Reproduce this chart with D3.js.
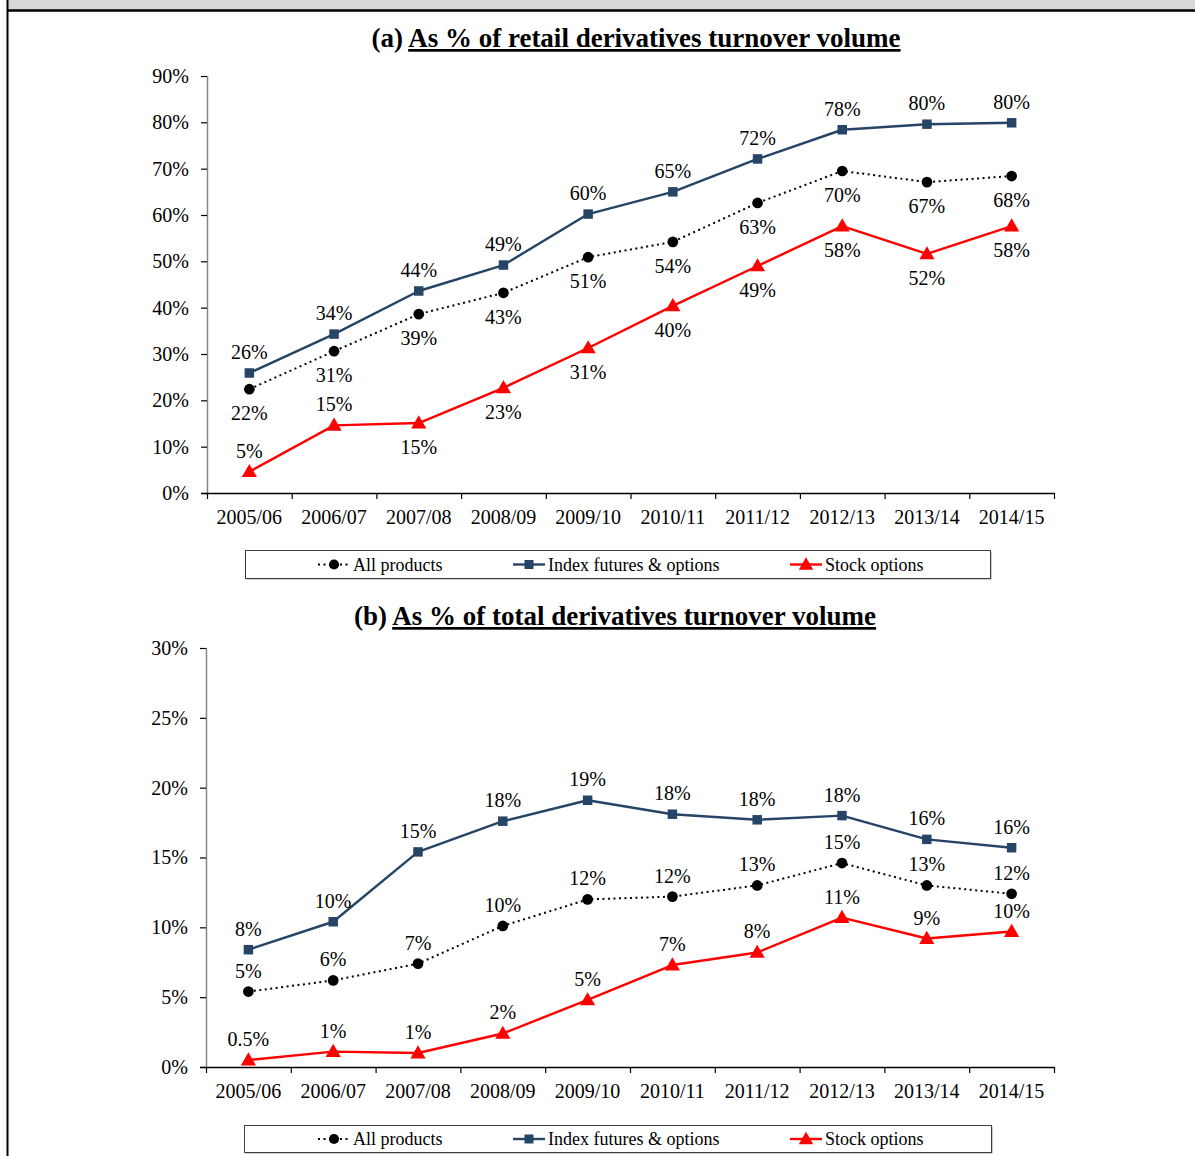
<!DOCTYPE html>
<html>
<head>
<meta charset="utf-8">
<script src="https://cdnjs.cloudflare.com/ajax/libs/d3/7.8.5/d3.min.js"></script>
<style>
  html, body { margin: 0; padding: 0; background: #ffffff; }
  svg { display: block; font-family: "Liberation Serif", "Times New Roman", serif; }
</style>
</head>
<body>
<svg id="chart" width="1195" height="1156"></svg>
<script>
// Fiscal years on the category axis
const years = ["2005/06", "2006/07", "2007/08", "2008/09", "2009/10",
               "2010/11", "2011/12", "2012/13", "2013/14", "2014/15"];

// (a) share of retail derivatives turnover volume, %
const retailAll   = [22.4, 30.6, 38.6, 43.2, 50.9, 54.2, 62.6, 69.5, 67.1, 68.4];
const retailIndex = [25.9, 34.3, 43.6, 49.2, 60.2, 65.0, 72.1, 78.4, 79.6, 79.9];
const retailStock = [4.6, 14.6, 15.1, 22.7, 31.3, 40.4, 49.0, 57.6, 51.6, 57.6];
const retailTicks = [0, 10, 20, 30, 40, 50, 60, 70, 80, 90];

// (b) share of total derivatives turnover volume, %
const totalAll   = [5.4, 6.2, 7.4, 10.1, 12.0, 12.2, 13.0, 14.6, 13.0, 12.4];
const totalIndex = [8.4, 10.4, 15.4, 17.6, 19.1, 18.1, 17.7, 18.0, 16.3, 15.7];
const totalStock = [0.5, 1.1, 1.0, 2.4, 4.8, 7.3, 8.2, 10.7, 9.2, 9.7];
const totalTicks = [0, 5, 10, 15, 20, 25, 30];

// Which side of the point each value label sits on
const retailAllSide   = ["below","below","below","below","below","below","below","below","below","below"];
const retailIndexSide = ["above","above","above","above","above","above","above","above","above","above"];
const retailStockSide = ["above","above","below","below","below","below","below","below","below","below"];
const totalSide       = ["above","above","above","above","above","above","above","above","above","above"];

const seriesNames = ["All products", "Index futures & options", "Stock options"];

const NAVY = "#264466";
const RED = "#ff0000";

const svg = d3.select("#chart");

// Page frame: grey header strip, rule under it and left border
svg.append("rect").attr("x", 8).attr("y", 0).attr("width", 1187).attr("height", 10).attr("fill", "#d9d9d9");
svg.append("line").attr("x1", 7).attr("x2", 1195).attr("y1", 10.5).attr("y2", 10.5)
  .attr("stroke", "#000").attr("stroke-width", 2.5);
svg.append("line").attr("x1", 7.5).attr("x2", 7.5).attr("y1", 0).attr("y2", 1156)
  .attr("stroke", "#000").attr("stroke-width", 2);

const fmtLabel = v => (v < 1 ? v.toFixed(1) : Math.round(v)) + "%";

function markerPath(type, size) {
  if (type === "circle") return d3.symbol(d3.symbolCircle, size)();
  if (type === "square") return d3.symbol(d3.symbolSquare, size)();
  return d3.symbol(d3.symbolTriangle, size)();
}

function drawPanel(cfg) {
  const g = svg.append("g");

  // Title with underlined caption
  const title = g.append("text")
    .attr("x", cfg.titleX).attr("y", cfg.titleY)
    .attr("text-anchor", "middle")
    .attr("font-size", 27).attr("font-weight", "bold").attr("fill", "#000");
  title.append("tspan").text(cfg.titlePrefix + " ");
  title.append("tspan").attr("text-decoration", "underline").text(cfg.titleText);

  const x = d3.scaleBand().domain(years).range([cfg.left, cfg.right]).padding(0);
  const y = d3.scaleLinear().domain([0, cfg.ticks[cfg.ticks.length - 1]]).range([cfg.bottom, cfg.top]);
  const cx = d => x(d) + x.bandwidth() / 2;

  // Y axis
  const yAxis = g.append("g").attr("transform", `translate(${cfg.left},0)`)
    .call(d3.axisLeft(y).tickValues(cfg.ticks).tickFormat(d => d + "%").tickSize(6).tickPadding(12));
  yAxis.select(".domain").attr("stroke", "#868686").attr("stroke-width", 1.5).attr("d", `M0.5,${cfg.top}V${cfg.bottom}`);
  yAxis.selectAll(".tick line").attr("stroke", "#000").attr("stroke-width", 1.2);
  yAxis.selectAll(".tick text").attr("font-size", 20).attr("fill", "#000")
    .attr("font-family", "Liberation Serif, serif");

  // X axis: ticks on band edges, labels centred in each band
  const xAxis = g.append("g");
  xAxis.append("line").attr("x1", cfg.left - 6).attr("x2", cfg.right)
    .attr("y1", cfg.bottom + 0.5).attr("y2", cfg.bottom + 0.5)
    .attr("stroke", "#000").attr("stroke-width", 1.3);
  const edges = years.map(d => x(d)).concat([cfg.right]);
  xAxis.selectAll("line.edge").data(edges).join("line").attr("class", "edge")
    .attr("x1", d => d + 0.5).attr("x2", d => d + 0.5)
    .attr("y1", cfg.bottom).attr("y2", cfg.bottom + 6)
    .attr("stroke", "#000").attr("stroke-width", 1.2);
  xAxis.selectAll("text").data(years).join("text")
    .attr("x", d => cx(d)).attr("y", cfg.bottom + 31)
    .attr("text-anchor", "middle").attr("font-size", 20).attr("fill", "#000")
    .text(d => d);

  const line = d3.line().x((d, i) => cx(years[i])).y(d => y(d));

  cfg.series.forEach(s => {
    g.append("path").datum(s.values)
      .attr("d", line).attr("fill", "none")
      .attr("stroke", s.color).attr("stroke-width", s.width)
      .attr("stroke-dasharray", s.dash || null)
      .attr("stroke-linejoin", "round");
    g.selectAll(null).data(s.values).join("path")
      .attr("d", markerPath(s.marker, s.size))
      .attr("transform", (d, i) => `translate(${cx(years[i])},${y(d) + (s.marker === "triangle" ? 1 : 0)})`)
      .attr("fill", s.color);
    g.selectAll(null).data(s.values).join("text")
      .attr("x", (d, i) => cx(years[i]))
      .attr("y", (d, i) => y(d) + (s.sides[i] === "above" ? -14 : 31))
      .attr("text-anchor", "middle").attr("font-size", 20).attr("fill", "#000")
      .text(d => fmtLabel(d));
  });

  // Legend box
  const lg = g.append("g");
  lg.append("rect").attr("x", cfg.legend.x + 1.5).attr("y", cfg.legend.y + 1.5)
    .attr("width", cfg.legend.w).attr("height", cfg.legend.h).attr("fill", "#9a9a9a");
  lg.append("rect").attr("x", cfg.legend.x + 0.5).attr("y", cfg.legend.y + 0.5)
    .attr("width", cfg.legend.w).attr("height", cfg.legend.h)
    .attr("fill", "#fff").attr("stroke", "#404040").attr("stroke-width", 1);
  const legendX = [318, 513, 790];
  const my = cfg.legend.y + cfg.legend.h / 2 + 0.5;
  cfg.series.forEach((s, i) => {
    const lx = legendX[i];
    lg.append("line").attr("x1", lx).attr("x2", lx + 32).attr("y1", my).attr("y2", my)
      .attr("stroke", s.color).attr("stroke-width", s.width)
      .attr("stroke-dasharray", s.dash || null);
    lg.append("path").attr("d", markerPath(s.marker, s.size * 0.9))
      .attr("transform", `translate(${lx + 16},${my + (s.marker === "triangle" ? 1 : 0)})`)
      .attr("fill", s.color);
    lg.append("text").attr("x", lx + 35).attr("y", my + 6)
      .attr("font-size", 18).attr("fill", "#000").text(seriesNames[i]);
  });
}

drawPanel({
  titlePrefix: "(a)", titleText: "As % of retail derivatives turnover volume",
  titleX: 636, titleY: 47,
  left: 207, right: 1054, top: 76, bottom: 493, ticks: retailTicks,
  legend: { x: 245, y: 550, w: 745, h: 28 },
  series: [
    { values: retailAll, color: "#000", width: 2, dash: "2,3.5", marker: "circle", size: 90, sides: retailAllSide },
    { values: retailIndex, color: NAVY, width: 2.4, marker: "square", size: 90, sides: retailIndexSide },
    { values: retailStock, color: RED, width: 2.4, marker: "triangle", size: 100, sides: retailStockSide }
  ]
});

drawPanel({
  titlePrefix: "(b)", titleText: "As % of total derivatives turnover volume",
  titleX: 615, titleY: 625,
  left: 206, right: 1054, top: 648, bottom: 1067, ticks: totalTicks,
  legend: { x: 244, y: 1125, w: 747, h: 27 },
  series: [
    { values: totalAll, color: "#000", width: 2, dash: "2,3.5", marker: "circle", size: 90, sides: totalSide },
    { values: totalIndex, color: NAVY, width: 2.4, marker: "square", size: 90, sides: totalSide },
    { values: totalStock, color: RED, width: 2.4, marker: "triangle", size: 100, sides: totalSide }
  ]
});
</script>
</body>
</html>
